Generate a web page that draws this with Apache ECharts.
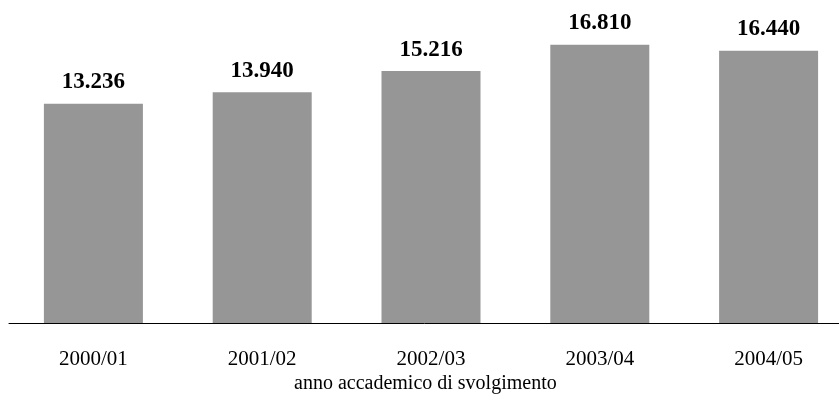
<!DOCTYPE html>
<html>
<head>
<meta charset="utf-8">
<style>
  html, body { margin: 0; padding: 0; background: #fff; }
  #chart { width: 839px; height: 394px; }
</style>
<script src="https://cdn.jsdelivr.net/npm/echarts@6/dist/echarts.min.js"></script>
</head>
<body>
<div id="chart"></div>
<script>
// Academic years shown on the category axis
const years = ['2000/01', '2001/02', '2002/03', '2003/04', '2004/05'];
// Counts per year
const counts = [13236, 13940, 15216, 16810, 16440];
// Title under the category axis
const xTitle = 'anno accademico di svolgimento';

const serif = '"Liberation Serif", "Times New Roman", Times, serif';

// Italian thousands separator: 13236 -> 13.236
function fmt(v) {
  return String(v).replace(/\B(?=(\d{3})+(?!\d))/g, '.');
}

const chart = echarts.init(document.getElementById('chart'));
chart.setOption({
  animation: false,
  backgroundColor: '#ffffff',
  // plot area runs past the right edge so the axis line reaches the border
  grid: {
    left: 9, width: 844, top: 25, bottom: 71,
    containLabel: false, outerBoundsMode: 'none'
  },
  xAxis: {
    type: 'category',
    data: years,
    axisLine: { lineStyle: { color: '#000', width: 1 } },
    axisTick: { show: false },
    axisLabel: { color: '#000', fontFamily: serif, fontSize: 21, margin: 26 }
  },
  yAxis: {
    type: 'value',
    min: 0,
    max: 18000,
    show: false,
    splitLine: { show: false }
  },
  series: [{
    type: 'bar',
    data: counts,
    barWidth: 99,
    itemStyle: { color: '#969696' },
    label: {
      show: true,
      position: 'top',
      distance: 10,
      color: '#000',
      fontFamily: serif,
      fontWeight: 'bold',
      fontSize: 23,
      formatter: p => fmt(p.value)
    }
  }],
  graphic: [{
    type: 'text',
    left: 294,
    top: 374,
    style: { text: xTitle, fill: '#000', font: '20px ' + serif }
  }]
});
</script>
</body>
</html>
